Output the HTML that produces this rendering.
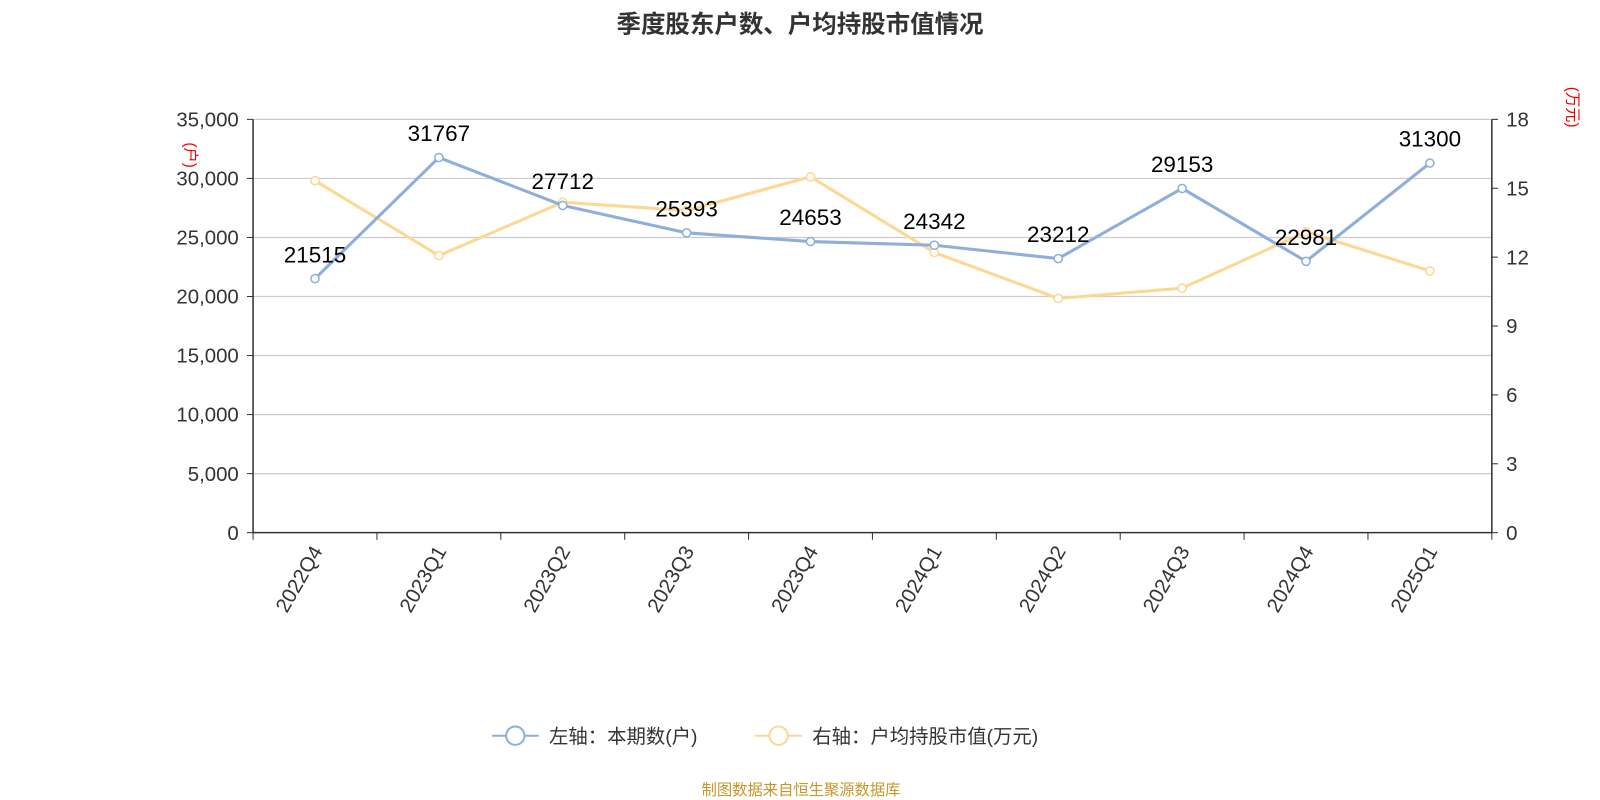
<!DOCTYPE html>
<html><head><meta charset="utf-8">
<style>
html,body{margin:0;padding:0;background:#fff;}
svg{display:block;font-family:"Liberation Sans","Noto Sans CJK SC",sans-serif;}
</style></head>
<body>
<svg id="chart" width="1600" height="800" viewBox="0 0 1568 784">
<text x="784" y="32" text-anchor="middle" font-size="24" font-weight="bold" fill="#333">季度股东户数、户均持股市值情况</text>
<g id="grid"></g>
<g id="axes"></g>
<g id="series"></g>
<text transform="translate(182,152) rotate(90)" text-anchor="middle" font-size="15" fill="#e00">(户)</text>
<text transform="translate(1536,105) rotate(90)" text-anchor="middle" font-size="15" fill="#e00">(万元)</text>
<g>
<g>
<line x1="482" y1="721" x2="528" y2="721" stroke="#8eaedb" stroke-width="2"/>
<circle cx="505" cy="721" r="9" fill="#fff" stroke="#8eaedb" stroke-width="2"/>
<text x="538" y="728" font-size="19" fill="#333">左轴：本期数(户)</text></g>
<g>
<line x1="740" y1="721" x2="786" y2="721" stroke="#fdd894" stroke-width="2"/>
<circle cx="763" cy="721" r="9" fill="#fff" stroke="#fdd894" stroke-width="2"/>
<text x="796" y="728" font-size="19" fill="#333">右轴：户均持股市值(万元)</text></g>
</g>
<text x="785" y="779" text-anchor="middle" font-size="15" fill="#c8962a">制图数据来自恒生聚源数据库</text>
</svg>
<script>
const categories=["2022Q4","2023Q1","2023Q2","2023Q3","2023Q4","2024Q1","2024Q2","2024Q3","2024Q4","2025Q1"];
const holders=[21515,31767,27712,25393,24653,24342,23212,29153,22981,31300];
const avgValue=[15.33,12.07,14.39,14.03,15.5,12.2,10.2,10.65,13.1,11.4];
const leftTicks=[0,5000,10000,15000,20000,25000,30000,35000];
const rightTicks=[0,3,6,9,12,15,18];
const NS="http://www.w3.org/2000/svg";
const X0=248,X1=1462,Y0=522,Y1=117;
const bw=(X1-X0)/categories.length;
const xs=i=>X0+bw*(i+0.5);
const yl=v=>Y0-(v/35000)*(Y0-Y1);
const yr=v=>Y0-(v/18)*(Y0-Y1);
function mk(tag,attrs,parent,text){const e=document.createElementNS(NS,tag);for(const k in attrs)e.setAttribute(k,attrs[k]);if(text!==undefined)e.textContent=text;parent.appendChild(e);return e;}
const grid=document.getElementById('grid'),axes=document.getElementById('axes'),series=document.getElementById('series');
leftTicks.forEach(t=>{const y=yl(t);
 if(t>0){const g=mk('line',{x1:X0,x2:X1,y1:y,y2:y,stroke:'#ccc','stroke-width':1.2},grid);
 
 }
 mk('line',{x1:X0-6,x2:X0,y1:y,y2:y,stroke:'#333'},axes);
 const l=mk('text',{x:X0-14,y:y+7,'text-anchor':'end','font-size':20,fill:'#333'},axes,t.toLocaleString('en-US'));
 
 });
rightTicks.forEach(t=>{const y=yr(t);
 mk('line',{x1:X1,x2:X1+6,y1:y,y2:y,stroke:'#333'},axes);
 const l=mk('text',{x:X1+14,y:y+7,'font-size':20,fill:'#333'},axes,String(t));
 
 });
mk('line',{x1:X0,x2:X0,y1:Y1,y2:Y0,stroke:'#333','stroke-width':1.5},axes);
mk('line',{x1:X1,x2:X1,y1:Y1,y2:Y0,stroke:'#333','stroke-width':1.5},axes);
mk('line',{x1:X0,x2:X1,y1:Y0,y2:Y0,stroke:'#333','stroke-width':1.5},axes);
for(let i=0;i<=categories.length;i++){const x=X0+bw*i;mk('line',{x1:x,x2:x,y1:Y0,y2:Y0+7,stroke:'#333'},axes);}
categories.forEach((c,i)=>{const x=xs(i);
 const l=mk('text',{transform:`translate(${x+8},${Y0+18}) rotate(-60)`,'text-anchor':'end','font-size':20,fill:'#333'},axes,c);
 
 });
function drawLine(vals,yf,color,name,labels){
 const p=mk('polyline',{points:vals.map((v,i)=>xs(i)+','+yf(v)).join(' '),fill:'none',stroke:color,'stroke-width':3},series);
 
 
 vals.forEach((v,i)=>{const c=mk('circle',{cx:xs(i),cy:yf(v),r:4,fill:'#fff',stroke:color,'stroke-width':1.5},series);
  
  
  if(labels){const t=mk('text',{x:xs(i),y:yf(v)-16,'text-anchor':'middle','font-size':22,fill:'#000'},series,String(v));
  
  }});
}
drawLine(avgValue,yr,'#fdd894','avg-value',false);
drawLine(holders,yl,'#8eaedb','holders',true);
</script>
</body></html>
